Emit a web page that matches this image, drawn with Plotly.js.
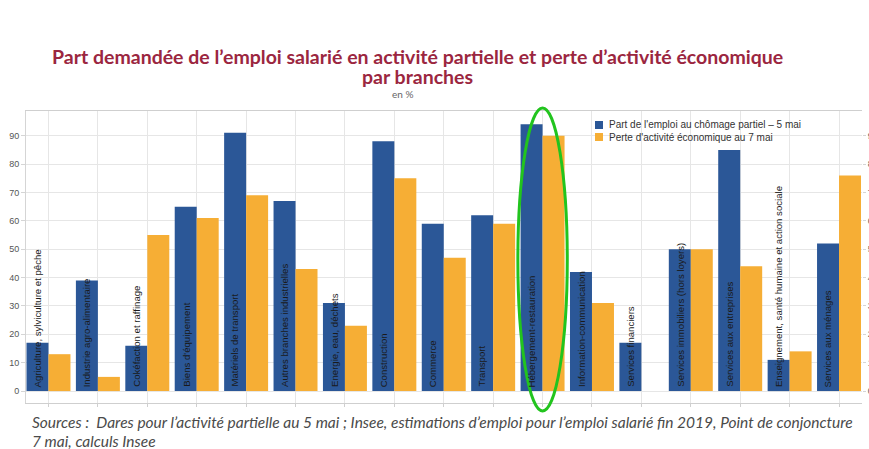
<!DOCTYPE html>
<html>
<head>
<meta charset="utf-8">
<script src="https://cdn.plot.ly/plotly-3.0.1.min.js"></script>
<style>html,body{margin:0;padding:0;background:#fff;}#chart{width:869px;height:449px;}</style>
</head>
<body>
<div id="chart"></div>
<script>
var categories = [
  "Agriculture, sylviculture et pêche",
  "Industrie agro-alimentaire",
  "Cokéfaction et raffinage",
  "Biens d'équipement",
  "Matériels de transport",
  "Autres branches industrielles",
  "Energie, eau, déchets",
  "Construction",
  "Commerce",
  "Transport",
  "Hébergement-restauration",
  "Information-communication",
  "Services financiers",
  "Services immobiliers (hors loyers)",
  "Services aux entreprises",
  "Enseignement, santé humaine et action sociale",
  "Services aux ménages"
];
var chomagePartiel = [17, 39, 16, 65, 91, 67, 31, 88, 59, 62, 94, 42, 17, 50, 85, 11, 52];
var perteActivite  = [13, 5, 55, 61, 69, 43, 23, 75, 47, 59, 90, 31, null, 50, 44, 14, 76];
var seriesNames = ["Part de l'emploi au chômage partiel – 5 mai", "Perte d'activité économique au 7 mai"];
var yTicks = [0, 10, 20, 30, 40, 50, 60, 70, 80, 90];
var highlighted = "Hébergement-restauration";
var titleLines = ["Part demandée de l’emploi salarié en activité partielle et perte d’activité économique", "par branches"];
var unitText = "en %";
var sourceLines = ["Sources :  Dares pour l’activité partielle au 5 mai ; Insee, estimations d’emploi pour l’emploi salarié fin 2019, Point de conjoncture", "7 mai, calculs Insee"];

var blue = "#2b5797", orange = "#f6ae35";
var colors = [blue, orange];
var idx = categories.map(function(c, i){ return i; });

// plot area in pixels (for converting page positions to paper coords)
var L = 26, R = 862, T = 111, B = 403;
function px(x){ return (x - L) / (R - L); }
function py(y){ return (B - y) / (B - T); }

var traces = [
  {type: "bar", x: idx, y: chomagePartiel, name: seriesNames[0], marker: {color: blue}, hoverinfo: "y"},
  {type: "bar", x: idx, y: perteActivite, name: seriesNames[1], marker: {color: orange}, hoverinfo: "y"},
  {type: "scatter", x: [0], y: [null], yaxis: "y2", showlegend: false, hoverinfo: "skip"}
];

var annotations = categories.map(function(c, i){
  return {x: i - 0.225, y: 0, xref: "x", yref: "y", text: c, textangle: -90,
    showarrow: false, xanchor: "center", yanchor: "bottom", yshift: 2,
    font: {family: "Liberation Sans, Arial, sans-serif", size: 9.6, color: "#1a1a1a"}};
});
titleLines.forEach(function(t, i){
  annotations.push({x: px(417), y: py(i === 0 ? 56 : 76.5), xref: "paper", yref: "paper", text: "<b>" + t + "</b>",
    showarrow: false, xanchor: "center", yanchor: "middle",
    font: {family: "Lato, sans-serif", size: 19.5, color: "#9b2640"}});
});
annotations.push({x: px(402), y: py(94), xref: "paper", yref: "paper", text: unitText,
  showarrow: false, xanchor: "center", yanchor: "middle",
  font: {family: "Lato, sans-serif", size: 10, color: "#666"}});
sourceLines.forEach(function(t, i){
  annotations.push({x: px(30), xref: "paper", yref: "paper", y: py(i === 0 ? 422 : 441), xanchor: "left", yanchor: "middle",
    showarrow: false, align: "left", text: "<i>" + t + "</i>",
    font: {family: "Lato, sans-serif", size: 15.5, color: "#4a4a4a"}});
});

var shapes = [];
// custom compact legend
seriesNames.forEach(function(n, i){
  var yc = 125 + 12 * i;
  shapes.push({type: "rect", xref: "paper", yref: "paper", x0: px(595), x1: px(603), y0: py(yc + 4), y1: py(yc - 4),
    fillcolor: colors[i], line: {width: 0}});
  annotations.push({x: px(607), y: py(yc), xref: "paper", yref: "paper", text: n, showarrow: false,
    xanchor: "left", yanchor: "middle",
    font: {family: "Liberation Sans, Arial, sans-serif", size: 10, color: "#333"}});
});

var hi = categories.indexOf(highlighted);
shapes.push({type: "circle", xref: "x", yref: "paper", x0: hi - 0.5, x1: hi + 0.5,
  y0: py(411), y1: py(108), line: {color: "#22c41e", width: 3}, layer: "above"});

var yrange = [-4.2, 98.7];
var layout = {
  width: 869, height: 449,
  margin: {l: 26, r: 7, t: 111, b: 46, pad: 0},
  paper_bgcolor: "#fff", plot_bgcolor: "#fff",
  barmode: "group", bargap: 0.11, bargroupgap: 0,
  xaxis: {type: "linear", range: [-0.455, 16.465], tickvals: idx, showticklabels: false,
    ticks: "outside", ticklen: 3, tickcolor: "#cfcfcf", showgrid: true, gridcolor: "#e6e6e6",
    showline: true, linecolor: "#cfcfcf", mirror: true, zeroline: false},
  yaxis: {range: yrange, tickvals: yTicks, ticks: "outside", ticklen: 4, tickcolor: "#d5d5d5",
    gridcolor: "#e6e6e6", showline: true, linecolor: "#d5d5d5", zeroline: false,
    tickfont: {family: "Liberation Sans, Arial, sans-serif", size: 9, color: "#555"}},
  yaxis2: {overlaying: "y", side: "right", range: yrange, tickvals: yTicks, ticks: "outside", ticklen: 3,
    tickcolor: "#d5d5d5", showgrid: false, zeroline: false, showline: false,
    tickfont: {family: "Liberation Sans, Arial, sans-serif", size: 9, color: "#555"}},
  showlegend: false,
  annotations: annotations,
  shapes: shapes
};
Plotly.newPlot("chart", traces, layout, {displayModeBar: false, staticPlot: true});
</script>
</body>
</html>
